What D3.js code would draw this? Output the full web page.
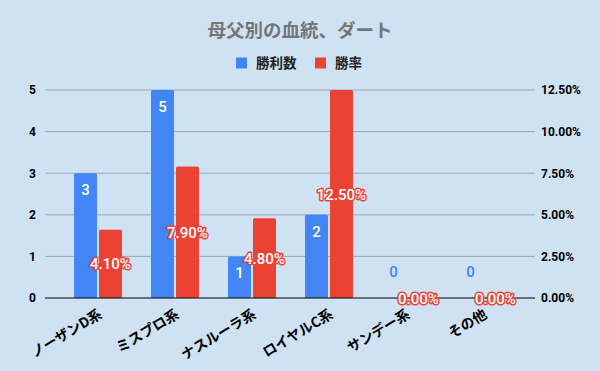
<!DOCTYPE html>
<html><head><meta charset="utf-8">
<script src="https://cdn.jsdelivr.net/npm/d3@7"></script>
<style>body{margin:0;background:#cfe2f3;}svg{display:block;}</style>
</head><body>
<svg id="c" width="600" height="371"></svg>
<script>
const categories = ["ノーザンD系","ミスプロ系","ナスルーラ系","ロイヤルC系","サンデー系","その他"];
const wins = [3,5,1,2,0,0];
const rates = [4.10,7.90,4.80,12.50,0.00,0.00];
const leftTicks = [0,1,2,3,4,5];
const rightTicks = [0,2.5,5,7.5,10,12.5];
const title = "母父別の血統、ダート";
const seriesNames = ["勝利数","勝率"];
const colors = ["#4285f4","#ea4335"];

(function(){
const svg = d3.select("#c");
const W=600,H=371;
svg.append("rect").attr("width",W).attr("height",H).attr("fill","#cfe2f3");
const pL=45,pR=535,pT=90,pB=298;
const x = d3.scaleBand().domain(categories).range([59.5,521.5]).paddingInner(0).paddingOuter(0);
const yL = d3.scaleLinear().domain([0,5]).range([pB,pT]);
const yR = d3.scaleLinear().domain([0,12.5]).range([pB,pT]);
const font = "Roboto, 'Noto Sans CJK JP', sans-serif";
const jp = "'Noto Sans CJK JP', sans-serif";

svg.append("text").attr("x",300).attr("y",37).attr("text-anchor","middle")
  .attr("font-family",jp).attr("font-weight","bold").attr("font-size",18.5)
  .attr("fill","#757575").text(title);

// legend
const lg = svg.append("g");
const lx=[236,315];
seriesNames.forEach((n,i)=>{
  lg.append("rect").attr("x",lx[i]).attr("y",57.5).attr("width",11).attr("height",11).attr("fill",colors[i]);
  lg.append("text").attr("x",lx[i]+20).attr("y",68).attr("font-family",jp)
    .attr("font-size",13.5).attr("font-weight","bold").attr("fill","#222").text(n);
});

// gridlines
svg.append("g").selectAll("line").data(leftTicks.slice(1)).join("line")
  .attr("x1",pL).attr("x2",pR).attr("y1",d=>yL(d)).attr("y2",d=>yL(d))
  .attr("stroke","#9aa6b2").attr("stroke-width",1);

// left axis
const la = svg.append("g").attr("transform",`translate(${pL},0)`)
  .call(d3.axisLeft(yL).tickValues(leftTicks).tickSize(0).tickPadding(9).tickFormat(d3.format("d")));
la.select(".domain").remove();
la.selectAll("text").attr("font-family",font).attr("font-weight","bold").attr("font-size",12).attr("fill","#000");
// right axis
const ra = svg.append("g").attr("transform",`translate(${pR},0)`)
  .call(d3.axisRight(yR).tickValues(rightTicks).tickSize(0).tickPadding(6).tickFormat(d=>d.toFixed(2)+"%"));
ra.select(".domain").remove();
ra.selectAll("text").attr("font-family",font).attr("font-weight","bold").attr("font-size",12).attr("fill","#000");

const bw=23, gap=2;
const gx = d=>x(d)+x.bandwidth()/2;
// bars
svg.append("g").selectAll("rect").data(categories).join("rect")
  .attr("x",d=>gx(d)-bw-gap/2).attr("width",bw)
  .attr("y",(d,i)=>yL(wins[i])).attr("height",(d,i)=>pB-yL(wins[i]))
  .attr("fill",colors[0]).attr("rx",1.5);
svg.append("g").selectAll("rect").data(categories).join("rect")
  .attr("x",d=>gx(d)+gap/2).attr("width",bw)
  .attr("y",(d,i)=>yR(rates[i])).attr("height",(d,i)=>pB-yR(rates[i]))
  .attr("fill",colors[1]).attr("rx",1.5);

// zero line
svg.append("line").attr("x1",pL).attr("x2",pR).attr("y1",pB).attr("y2",pB).attr("stroke","#000").attr("stroke-width",1.2);

// win labels
svg.append("g").selectAll("text").data(categories).join("text")
  .attr("x",d=>gx(d)-bw/2-gap/2).attr("y",(d,i)=>wins[i]>0? yL(wins[i])+22 : pB-21)
  .attr("text-anchor","middle").attr("font-family",font).attr("font-size",15).attr("font-weight",500)
  .attr("fill",(d,i)=>wins[i]>0?"#fff":colors[0]).text((d,i)=>wins[i]);

// rate labels (halo)
const rl = svg.append("g");
[0,1].forEach(k=>{
  rl.append("g").selectAll("text").data(categories).join("text")
    .attr("x",d=>gx(d)+bw/2+gap/2).attr("y",(d,i)=>(yR(rates[i])+pB)/2+5.5)
    .attr("text-anchor","middle").attr("font-family",font).attr("font-size",15).attr("font-weight",500)
    .attr("fill","#fff").attr("stroke",k==0?colors[1]:"none").attr("stroke-width",k==0?3:0)
    .attr("stroke-linejoin","round")
    .text((d,i)=>rates[i].toFixed(2)+"%");
});

// x labels
svg.append("g").selectAll("text").data(categories).join("text")
  .attr("transform",d=>`translate(${gx(d)+5},${317}) rotate(-31)`)
  .attr("text-anchor","end").attr("font-family",jp)
  .attr("font-size",14).attr("font-weight","bold").attr("fill","#000").text(d=>d);
})();
</script>
</body></html>
